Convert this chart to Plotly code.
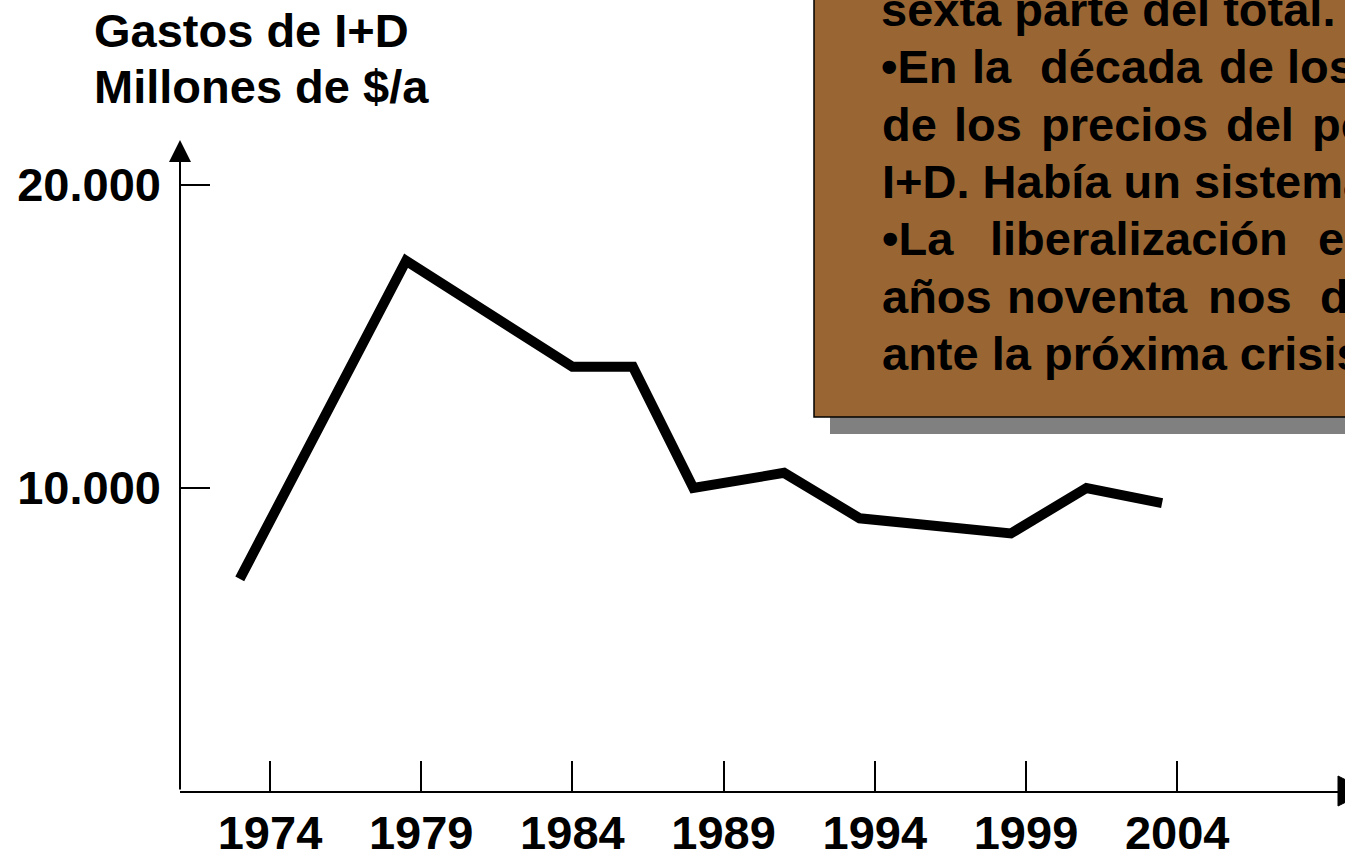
import plotly.graph_objects as go

# ---------------- data ----------------
years = [1973, 1978.5, 1984, 1986, 1988, 1991, 1993.5, 1998.5, 2001, 2003.5]
gastos = [7000, 17500, 14000, 14000, 10000, 10500, 9000, 8500, 10000, 9500]
x_tick_vals = [1974, 1979, 1984, 1989, 1994, 1999, 2004]
x_tick_text = ["1974", "1979", "1984", "1989", "1994", "1999", "2004"]
y_tick_vals = [10000, 20000]
y_tick_text = ["10.000", "20.000"]
title_lines = ["Gastos de I+D", "Millones de $/a"]
box_lines = [
    ["sexta parte del total."],
    ["•En", "la", "década", "de", "los"],
    ["de", "los", "precios", "del", "petróleo"],
    ["I+D. Había un sistema"],
    ["•La", "liberalización", "en"],
    ["años", "noventa", "nos", "deja"],
    ["ante la próxima crisis"],
]
# word start positions (pixels) for justified text
box_word_x = [
    [881],
    [881, 972, 1040, 1219, 1287],
    [882, 954, 1041, 1226, 1312],
    [882],
    [882, 990, 1318],
    [882, 1007, 1208, 1320],
    [882],
]

# ---------------- layout geometry ----------------
W, H = 1345, 854
L, R, T, B = 180, 0, 140, 63
plot_w = W - L - R
plot_h = H - T - B
px_per_year = 30.24
x_lo = 1974 - (270 - L) / px_per_year
x_hi = x_lo + plot_w / px_per_year
y_hi = plot_h / 303.0 * 10000

FONT = "Liberation Sans, Arial, sans-serif"
FS = 47


def pxx(p):
    return (p - L) / plot_w


def pxy(p):
    return (H - B - p) / plot_h


def center_from_baseline(b, size):
    return b - 0.3465 * size


fig = go.Figure()
fig.add_trace(go.Scatter(
    x=years, y=gastos, mode="lines",
    line=dict(color="black", width=10),
    hoverinfo="skip", showlegend=False, cliponaxis=False,
))

shapes = [
    # shadow
    dict(type="rect", xref="paper", yref="paper",
         x0=pxx(830), x1=pxx(1420), y0=pxy(434), y1=pxy(-20),
         fillcolor="#808080", line=dict(width=0), layer="above"),
    # brown box
    dict(type="rect", xref="paper", yref="paper",
         x0=pxx(814), x1=pxx(1410), y0=pxy(417), y1=pxy(-30),
         fillcolor="#996633", line=dict(color="black", width=1.5), layer="above"),
    # x-axis arrowhead (mostly beyond the right edge)
    dict(type="path", xref="paper", yref="paper",
         xsizemode="pixel", ysizemode="pixel",
         xanchor=pxx(1338), yanchor=0,
         path="M0,-15 L30,0 L0,15 Z",
         fillcolor="black", line=dict(color="black", width=1), layer="above"),
]

annotations = []
# y-axis line with arrow
annotations.append(dict(
    x=0, y=pxy(140), xref="paper", yref="paper",
    ax=0, ay=(H - B) - 140, axref="pixel", ayref="pixel",
    text="", showarrow=True, arrowhead=2, arrowsize=2.2, arrowwidth=2,
    arrowcolor="black", standoff=0,
))

# title
for i, t in enumerate(title_lines):
    annotations.append(dict(
        x=pxx(92), y=pxy(center_from_baseline(47 + 56 * i, FS)),
        xref="paper", yref="paper", xanchor="left", yanchor="middle",
        text=t, showarrow=False,
        font=dict(family=FONT, size=FS, color="black", weight="bold"),
    ))

# box text
for i, (words, xs) in enumerate(zip(box_lines, box_word_x)):
    base = 25.5 + 57.4 * i
    for w, xpos in zip(words, xs):
        annotations.append(dict(
            x=pxx(xpos - 2), y=pxy(center_from_baseline(base, FS)),
            xref="paper", yref="paper", xanchor="left", yanchor="middle",
            text=w, showarrow=False,
            font=dict(family=FONT, size=FS, color="black", weight="bold"),
        ))

fig.update_layout(
    width=W, height=H,
    margin=dict(l=L, r=R, t=T, b=B, pad=0, autoexpand=False),
    paper_bgcolor="white", plot_bgcolor="white",
    showlegend=False,
    shapes=shapes,
    annotations=annotations,
    xaxis=dict(
        range=[x_lo, x_hi], showgrid=False, zeroline=False,
        showline=True, linecolor="black", linewidth=2,
        automargin=False,
        tickmode="array", tickvals=x_tick_vals, ticktext=x_tick_text,
        ticks="inside", ticklen=30, tickwidth=1.5, tickcolor="black",
        ticklabelstandoff=0,
        tickfont=dict(family=FONT, size=FS, color="black", weight="bold"),
    ),
    yaxis=dict(
        range=[0, y_hi], showgrid=False, zeroline=False, showline=False,
        automargin=False,
        tickmode="array", tickvals=y_tick_vals, ticktext=y_tick_text,
        ticks="inside", ticklen=30, tickwidth=1.5, tickcolor="black",
        ticklabelstandoff=18,
        tickfont=dict(family=FONT, size=FS, color="black", weight="bold"),
    ),
)

fig.write_html(
    "out.html",
    config={"displayModeBar": False},
    post_script="document.documentElement.style.overflow='hidden';"
                "document.body.style.margin='0';document.body.style.overflow='hidden';",
)
